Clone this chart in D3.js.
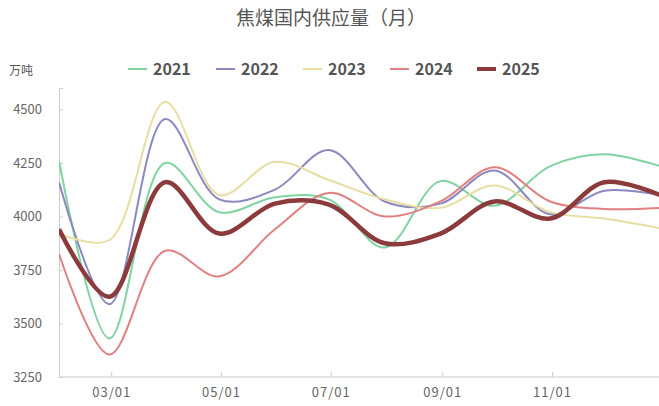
<!DOCTYPE html>
<html>
<head>
<meta charset="utf-8">
<script src="https://cdn.jsdelivr.net/npm/d3@7"></script>
<style>
  body { margin:0; background:#fff; }
  text { font-family: "Noto Sans CJK SC", "Noto Sans", sans-serif; }
</style>
</head>
<body>
<div id="chart"></div>
<script>
//----------------------------------------------------------------------
// data (month end values, 万吨)
var months = ["01-31","02-28","03-31","04-30","05-31","06-30","07-31","08-31","09-30","10-31","11-30","12-31"];
var years  = ["2021","2022","2023","2024","2025"];
var v2021 = [4260, 3430, 4250, 4020, 4090, 4080, 3855, 4165, 4050, 4235, 4290, 4235];
var v2022 = [4160, 3590, 4455, 4080, 4125, 4310, 4070, 4060, 4215, 4010, 4120, 4100];
var v2023 = [3920, 3890, 4535, 4100, 4255, 4170, 4080, 4040, 4145, 4020, 3990, 3945];
var v2024 = [3825, 3355, 3840, 3720, 3940, 4110, 4000, 4070, 4230, 4070, 4035, 4040];
var v2025 = [3940, 3625, 4160, 3920, 4060, 4055, 3875, 3920, 4070, 3990, 4160, 4100];
var yTicks = [3250, 3500, 3750, 4000, 4250, 4500];
var xTicks = ["03-01","05-01","07-01","09-01","11-01"];

var colors = ["#7fd4a2", "#8c88c2", "#e8dea2", "#e27f7f", "#8b3b3b"];
var widths = [2, 2, 2, 2, 4.5];

//----------------------------------------------------------------------
var W = 659, H = 406;
var svg = d3.select("#chart").append("svg")
			.attr("width", W)
			.attr("height", H);

var parse = d3.timeParse("%Y-%m-%d");
function f_date(md){ return parse("2021-" + md); }

var x = d3.scaleTime()
		.domain([f_date("01-31"), f_date("12-31")])
		.range([59, 660]);
var y = d3.scaleLinear()
		.domain([3250, 4600])
		.range([377, 88]);

// title
svg.append("text")
	.attr("x", 331).attr("y", 25)
	.attr("text-anchor", "middle")
	.attr("font-size", 19)
	.attr("fill", "#555")
	.text("焦煤国内供应量（月）");

svg.append("text")
	.attr("x", 9).attr("y", 75)
	.attr("font-size", 12)
	.attr("fill", "#555")
	.text("万吨");

// axes
var yAxis = d3.axisLeft(y).tickValues(yTicks).tickSize(-4).tickPadding(17).tickFormat(d3.format("d"));
var gy = svg.append("g").attr("transform", "translate(59,0)").call(yAxis);
gy.select(".domain").attr("stroke", "#ccc");
gy.selectAll(".tick line").attr("stroke", "#ccc");
gy.selectAll(".tick text").attr("font-size", 13).attr("fill", "#666")
	.attr("font-family", "'Noto Sans', sans-serif");

var xAxis = d3.axisBottom(x).tickValues(xTicks.map(f_date))
			.tickFormat(d3.timeFormat("%m/%d")).tickSize(-5).tickPadding(11);
var gx = svg.append("g").attr("transform", "translate(0,377)").call(xAxis);
gx.select(".domain").attr("stroke", "#ccc").attr("d", "M59,0H659");
gx.selectAll(".tick line").attr("stroke", "#ccc");
gx.selectAll(".tick text").attr("font-size", 13).attr("fill", "#666")
	.attr("letter-spacing", 1)
	.attr("font-family", "'Noto Sans', sans-serif");

// lines
var series = [v2021, v2022, v2023, v2024, v2025];
var line = d3.line()
			.x(function(d,i){ return x(f_date(months[i])); })
			.y(function(d){ return y(d); })
			.curve(d3.curveCatmullRom.alpha(0.5));

svg.append("defs").append("clipPath").attr("id", "clip")
	.append("rect").attr("x", 59).attr("y", 0).attr("width", 600).attr("height", 377);

svg.append("g").attr("clip-path", "url(#clip)")
	.selectAll("path")
	.data(series)
	.enter()
		.append("path")
		.attr("d", line)
		.attr("fill", "none")
		.attr("stroke", function(d,i){ return colors[i]; })
		.attr("stroke-width", function(d,i){ return widths[i]; })
		.attr("stroke-linejoin", "round");

// legend
var lx = [128, 216, 303, 390, 477];
var lg = svg.append("g").selectAll("g")
			.data(years)
			.enter()
				.append("g")
				.attr("transform", function(d,i){ return "translate(" + lx[i] + ",69)"; });
lg.append("line")
	.attr("x1", 0).attr("x2", 19)
	.attr("stroke", function(d,i){ return colors[i]; })
	.attr("stroke-width", function(d,i){ return i == 4 ? 4 : 2; });
lg.append("text")
	.attr("x", 25).attr("y", 6)
	.attr("font-size", 16)
	.attr("font-weight", 600)
	.attr("fill", "#555")
	.attr("font-family", "'Noto Sans', sans-serif")
	.text(function(d){ return d; });
</script>
</body>
</html>
